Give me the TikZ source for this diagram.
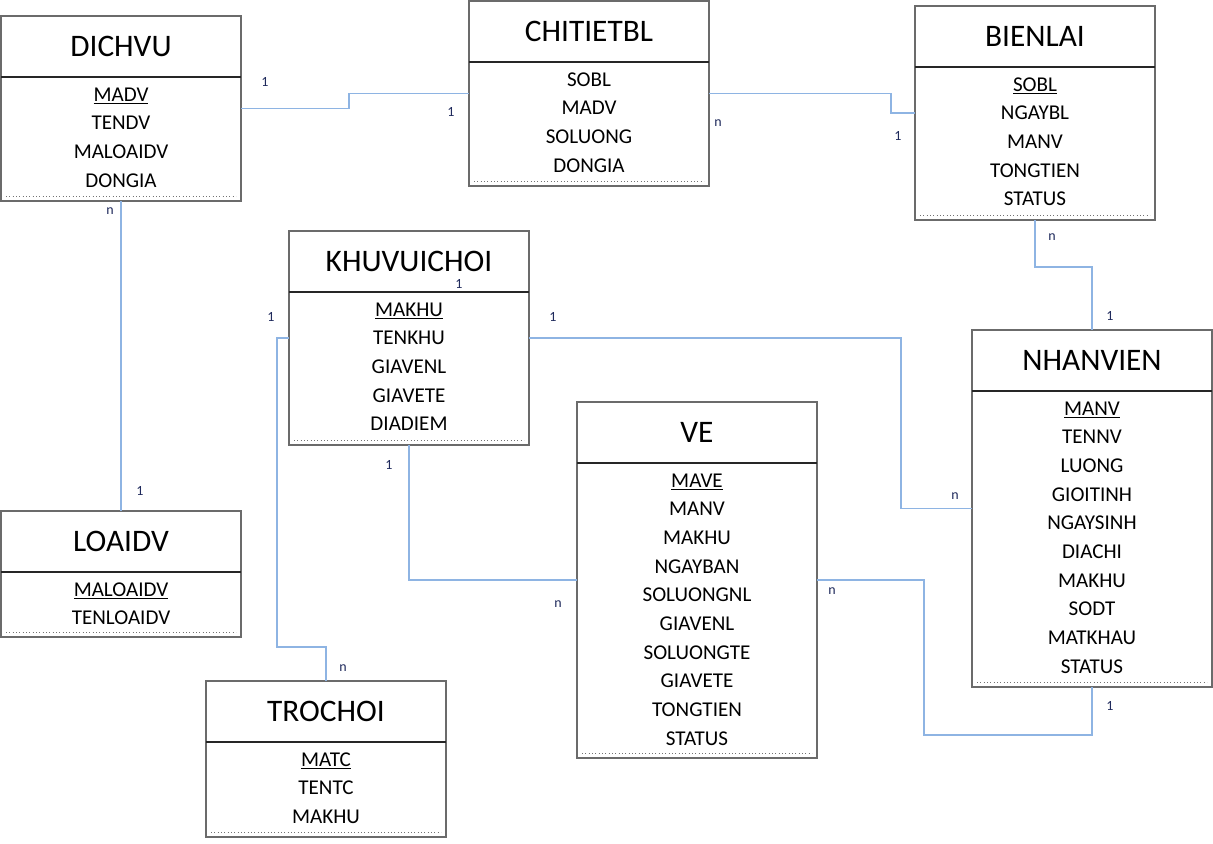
\documentclass[tikz,border=0pt]{standalone}
\usepackage{fontspec}
\setmainfont{Carlito}
\usetikzlibrary{calc}
\definecolor{connc}{HTML}{8EB4E3}
\definecolor{lblc}{HTML}{1F2A5C}
\definecolor{bordc}{HTML}{6B6B6B}
\tikzset{
  ebox/.style={draw=bordc, line width=1.3pt, fill=white, minimum width=180pt, inner sep=0pt, outer sep=0pt},
  hline/.style={draw=black!85, line width=0.8pt},
  dline/.style={draw=black!55, line width=0.5pt, dotted},
  etitle/.style={anchor=base, inner sep=0pt, font=\fontsize{23.5}{26}\selectfont},
  eattr/.style={anchor=base, inner sep=0pt, font=\fontsize{15.8}{18}\selectfont},
  conn/.style={draw=connc, line width=1.3pt},
  lbl/.style={text=lblc, inner sep=0pt, font=\fontsize{10.5}{12}\selectfont}
}
\newcommand\erent[6]{%
  \node[ebox, minimum height=#4*0.75pt, anchor=north west] (#1) at (#2,#3) {};
  \draw[hline] ($(#1.north west)+(0,61)$) -- ($(#1.north east)+(0,61)$);
  \node[etitle] (#1-title) at ($(#1.north)+(0,40)$) {#5};
  \foreach \a [count=\i] in {#6} {\node[eattr] (#1-a\i) at ($(#1.north)+(0,{85+28.7*(\i-1)})$) {\a};}
  \draw[dline] ($(#1.south west)+(5,-5)$) -- ($(#1.south east)+(-5,-5)$);
}
\begin{document}
\begin{tikzpicture}[x=0.75pt,y=-0.75pt]
\useasboundingbox (0,0) rectangle (1213,843);
\fill[white] (0,0) rectangle (1213,843);
\erent{dichvu}{1}{16}{185}{DICHVU}{\underline{MADV},TENDV,MALOAIDV,DONGIA}
\erent{chitietbl}{469}{1}{185}{CHITIETBL}{SOBL,MADV,SOLUONG,DONGIA}
\erent{bienlai}{915}{6}{214}{BIENLAI}{\underline{SOBL},NGAYBL,MANV,TONGTIEN,STATUS}
\erent{khu}{289}{231}{214}{KHUVUICHOI}{\underline{MAKHU},TENKHU,GIAVENL,GIAVETE,DIADIEM}
\erent{nhanvien}{972}{330}{357}{NHANVIEN}{\underline{MANV},TENNV,LUONG,GIOITINH,NGAYSINH,DIACHI,MAKHU,SODT,MATKHAU,STATUS}
\erent{ve}{577}{402}{356}{VE}{\underline{MAVE},MANV,MAKHU,NGAYBAN,SOLUONGNL,GIAVENL,SOLUONGTE,GIAVETE,TONGTIEN,STATUS}
\erent{loaidv}{1}{511}{126}{LOAIDV}{\underline{MALOAIDV},TENLOAIDV}
\erent{trochoi}{206}{681}{156}{TROCHOI}{\underline{MATC},TENTC,MAKHU}
% connectors
\draw[conn] (dichvu.east) -- (349,108.5) |- (chitietbl.west);
\draw[conn] (chitietbl.east) -- (891,93.5) |- (bienlai.west);
\draw[conn] (dichvu.south) -- (loaidv.north);
\draw[conn] (bienlai.south) -- ($(bienlai.south)+(0,47)$) -| (nhanvien.north);
\draw[conn] (khu.east) -- (901,338) |- (nhanvien.west);
\draw[conn] (khu.west) -- (277,338) |- ($(trochoi.north)+(0,-34)$) -- (trochoi.north);
\draw[conn] (khu.south) |- (ve.west);
\draw[conn] (ve.east) -- (924,580) |- ($(nhanvien.south)+(0,48)$) -- (nhanvien.south);
% cardinality labels
\node[lbl] (c1) at (265,82) {1};
\node[lbl] (c2) at (451,112) {1};
\node[lbl] (c3) at (718,123) {n};
\node[lbl] (c4) at (898,136) {1};
\node[lbl] (c5) at (110,211) {n};
\node[lbl] (c6) at (140,491) {1};
\node[lbl] (c7) at (1052,237) {n};
\node[lbl] (c8) at (1110,316) {1};
\node[lbl] (c9) at (553,317) {1};
\node[lbl] (c10) at (955,496) {n};
\node[lbl] (c11) at (271,317) {1};
\node[lbl] (c12) at (343,668) {n};
\node[lbl] (c13) at (389,465) {1};
\node[lbl] (c14) at (558,604) {n};
\node[lbl] (c15) at (832,591) {n};
\node[lbl] (c16) at (1110,706) {1};
\node[lbl] (c17) at (459,284) {1};
\end{tikzpicture}
\end{document}
